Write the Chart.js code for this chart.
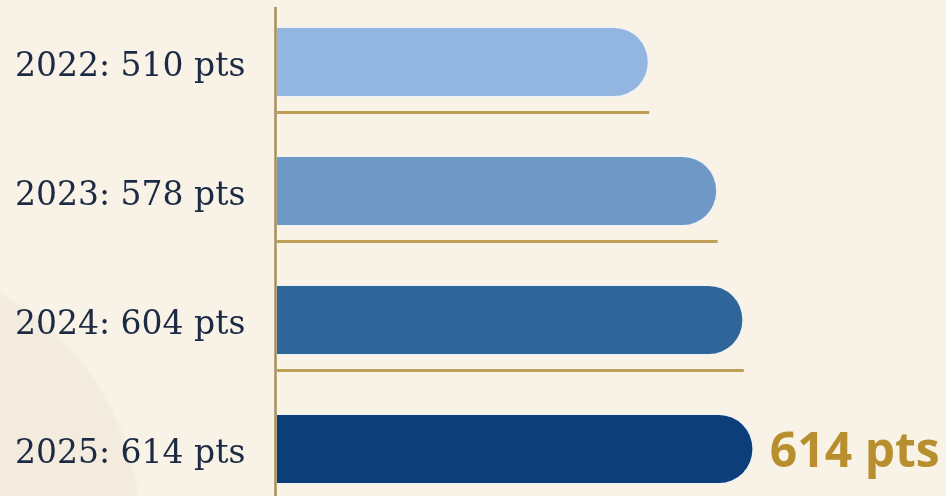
<!DOCTYPE html>
<html>
<head>
<meta charset="utf-8">
<script src="https://cdn.jsdelivr.net/npm/chart.js@4/dist/chart.umd.min.js"></script>
<style>
  html, body { margin: 0; padding: 0; }
  body {
    width: 946px; height: 496px; overflow: hidden;
    background:
      radial-gradient(circle at -130px 530px, #f3ebde 0, #f3ebde 268px, rgba(243,235,222,0) 272px),
      #f8f2e7;
  }
  #wrap { position: relative; width: 946px; height: 496px; }
</style>
</head>
<body>
<div id="wrap"><canvas id="c"></canvas></div>
<script>
// ---- data ----
const years = ["2022", "2023", "2024", "2025"];
const points = [510, 578, 604, 614];
const unit = "pts";
const barColors = ["#93b6e0", "#6f98c6", "#2f6598", "#0c3e7a"];
const calloutIndex = 3;
const axisMin = 140;
const axisMax = 805;

const categoryLabels = years.map((y, i) => `${y}: ${points[i]} ${unit}`);

const decorPlugin = {
  id: 'decor',
  beforeDatasetsDraw(chart) {
    const ctx = chart.ctx;
    const meta = chart.getDatasetMeta(0);
    const xScale = chart.scales.x;
    const baseX = xScale.left;
    ctx.save();
    // gold underlines beneath each bar
    ctx.strokeStyle = '#bf9f57';
    ctx.lineWidth = 3;
    meta.data.forEach((bar) => {
      const y = bar.y + bar.height / 2 + 15;
      ctx.beginPath();
      ctx.moveTo(baseX, y);
      ctx.lineTo(bar.x, y);
      ctx.stroke();
    });
    // vertical axis line
    ctx.strokeStyle = '#a88f5c';
    ctx.lineWidth = 2.5;
    ctx.beginPath();
    ctx.moveTo(baseX - 1.5, 7);
    ctx.lineTo(baseX - 1.5, chart.height);
    ctx.stroke();
    ctx.restore();
  },
  afterDatasetsDraw(chart) {
    const ctx = chart.ctx;
    const bar = chart.getDatasetMeta(0).data[calloutIndex];
    ctx.save();
    ctx.font = "bold 48px 'Open Sans'";
    ctx.fillStyle = '#b88f2e';
    ctx.textAlign = 'left';
    ctx.textBaseline = 'alphabetic';
    ctx.fillText(`${points[calloutIndex]} ${unit}`, bar.x + 16, bar.y + 18);
    ctx.restore();
  }
};

new Chart(document.getElementById('c'), {
  type: 'bar',
  data: {
    labels: categoryLabels,
    datasets: [{
      data: points,
      base: axisMin,
      backgroundColor: barColors,
      borderColor: 'rgba(236,243,250,0.85)',
      borderWidth: 1.5,
      borderSkipped: 'start',
      borderRadius: 35,
      barPercentage: 0.55,
      categoryPercentage: 1,
      clip: false
    }]
  },
  options: {
    indexAxis: 'y',
    responsive: true,
    maintainAspectRatio: false,
    animation: false,
    layout: { padding: { left: 15, right: 0, top: 62, bottom: 47 } },
    plugins: { legend: { display: false }, tooltip: { enabled: false } },
    scales: {
      x: { display: false, min: axisMin, max: axisMax },
      y: {
        offset: false,
        grid: { display: false },
        border: { display: false },
        afterFit(scale) { scale.width = 262; },
        ticks: {
          crossAlign: 'far',
          color: '#1d2a44',
          font: { family: "'DejaVu Serif'", size: 33 },
          labelOffset: 5,
          padding: 0
        }
      }
    }
  },
  plugins: [decorPlugin]
});
</script>
</body>
</html>
